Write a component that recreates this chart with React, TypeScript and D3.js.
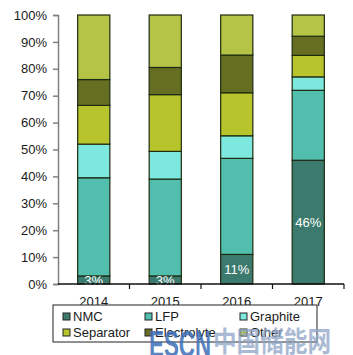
import React, { useEffect, useRef } from 'react';
import * as d3 from 'd3';

const years = ['2014', '2015', '2016', '2017'];
const parts = ['NMC', 'LFP', 'Graphite', 'Separator', 'Electrolyte', 'Other'];
const nmc = [3, 3, 11, 46];
const lfp = [36.5, 36, 35.7, 26];
const graphite = [12.5, 10.3, 8.4, 5];
const separator = [14.4, 21.1, 16, 8];
const electrolyte = [9.6, 10.1, 14, 7.1];
const other = [24, 19.5, 14.9, 7.9];
const nmcLabels = ['3%', '3%', '11%', '46%'];
const yTicks = [0, 10, 20, 30, 40, 50, 60, 70, 80, 90, 100];

const colors = ['#3b7a6d', '#52bfae', '#7de8dd', '#b7c42b', '#666f21', '#b5c447'];
const font = '13px "Liberation Sans", Arial, sans-serif';

const App = () => {
  const ref = useRef<SVGSVGElement>(null);

  useEffect(() => {
    const svg = d3.select(ref.current);
    svg.selectAll('*').remove();

    const margin = { top: 15, left: 58, right: 9, bottom: 71 };
    const width = 353 - margin.left - margin.right;
    const height = 355 - margin.top - margin.bottom;

    const rows = years.map((y, i) => ({
      year: y,
      NMC: nmc[i],
      LFP: lfp[i],
      Graphite: graphite[i],
      Separator: separator[i],
      Electrolyte: electrolyte[i],
      Other: other[i],
    }));

    const x = d3.scaleBand().domain(years).range([0, width]).paddingInner(0.55).paddingOuter(0.275);
    const band = d3.scaleBand().domain(years).range([0, width]);
    const y = d3.scaleLinear().domain([0, 100]).range([height, 0]);
    const color = d3.scaleOrdinal<string>().domain(parts).range(colors);

    const g = svg.append('g').attr('transform', `translate(${margin.left},${margin.top})`);

    const stack = d3.stack<any>().keys(parts)(rows);

    g.selectAll('g.layer')
      .data(stack)
      .enter()
      .append('g')
      .attr('class', 'layer')
      .attr('fill', (d) => color(d.key))
      .selectAll('rect')
      .data((d) => d)
      .enter()
      .append('rect')
      .attr('x', (d) => x(d.data.year)!)
      .attr('y', (d) => y(d[1]))
      .attr('width', x.bandwidth())
      .attr('height', (d) => y(d[0]) - y(d[1]))
      .attr('stroke', '#1e2a12')
      .attr('stroke-width', 1.2);

    // NMC share labels
    g.selectAll('text.nmc')
      .data(rows)
      .enter()
      .append('text')
      .attr('class', 'nmc')
      .attr('x', (d) => x(d.year)! + x.bandwidth() / 2)
      .attr('y', (d) => (y(0) + y(d.NMC)) / 2 + 5)
      .attr('text-anchor', 'middle')
      .attr('fill', 'white')
      .style('font', font)
      .text((d, i) => nmcLabels[i]);

    // y axis
    const yAxis = g.append('g').call(
      d3.axisLeft(y).tickValues(yTicks).tickSize(5).tickFormat((d) => `${d}%`)
    );
    yAxis.select('.domain').attr('stroke', '#808080').attr('stroke-width', 1.5);
    yAxis.selectAll('.tick line').attr('stroke', '#808080').attr('stroke-width', 1.5);
    yAxis
      .selectAll('.tick text')
      .attr('fill', '#1a1a1a')
      .attr('x', -11)
      .style('font', font);

    // x axis
    const xg = g.append('g').attr('transform', `translate(0,${height})`);
    xg.append('line').attr('x1', 0).attr('x2', width).attr('stroke', '#111').attr('stroke-width', 1.5);
    xg.selectAll('line.tick')
      .data(years)
      .enter()
      .append('line')
      .attr('class', 'tick')
      .attr('x1', (d) => band(d)! + band.bandwidth())
      .attr('x2', (d) => band(d)! + band.bandwidth())
      .attr('y1', 0)
      .attr('y2', 5)
      .attr('stroke', '#111')
      .attr('stroke-width', 1.2);
    xg.selectAll('text')
      .data(years)
      .enter()
      .append('text')
      .attr('x', (d) => band(d)! + band.bandwidth() / 2)
      .attr('y', 22)
      .attr('text-anchor', 'middle')
      .attr('fill', '#1a1a1a')
      .style('font', font)
      .text((d) => d);

    // legend
    const lg = svg.append('g').attr('transform', 'translate(53,305)');
    lg.append('rect')
      .attr('width', 264)
      .attr('height', 37)
      .attr('fill', 'white')
      .attr('stroke', '#222')
      .attr('stroke-width', 1);
    const cols = [10, 92, 187];
    const items = lg
      .selectAll('g.item')
      .data(parts)
      .enter()
      .append('g')
      .attr('class', 'item')
      .attr('transform', (d, i) => `translate(${cols[i % 3]},${i < 3 ? 16 : 32})`);
    items
      .append('rect')
      .attr('x', 0)
      .attr('y', -8)
      .attr('width', 7)
      .attr('height', 7)
      .attr('fill', (d) => color(d))
      .attr('stroke', '#222')
      .attr('stroke-width', 1);
    items
      .append('text')
      .attr('x', 10)
      .attr('y', 0)
      .attr('fill', '#1a1a1a')
      .style('font', font)
      .text((d) => d);

    // watermark
    svg.append('text')
      .attr('x', 149)
      .attr('y', 357)
      .attr('fill', '#3f6fb8')
      .attr('opacity', 0.85)
      .attr('textLength', 62)
      .attr('lengthAdjust', 'spacingAndGlyphs')
      .style('font', 'bold 36px "Liberation Sans", Arial, sans-serif')
      .text('ESCN');
    svg.append('text')
      .attr('x', 213)
      .attr('y', 352)
      .attr('fill', '#8ea4c6')
      .attr('opacity', 0.75)
      .attr('textLength', 118)
      .attr('lengthAdjust', 'spacingAndGlyphs')
      .style('font', 'bold 28px "Noto Sans CJK SC", sans-serif')
      .text('中国储能网');
  }, []);

  return <svg ref={ref} width={353} height={355} style={{ position: 'absolute', left: 0, top: 0 }} />;
};

export default App;
